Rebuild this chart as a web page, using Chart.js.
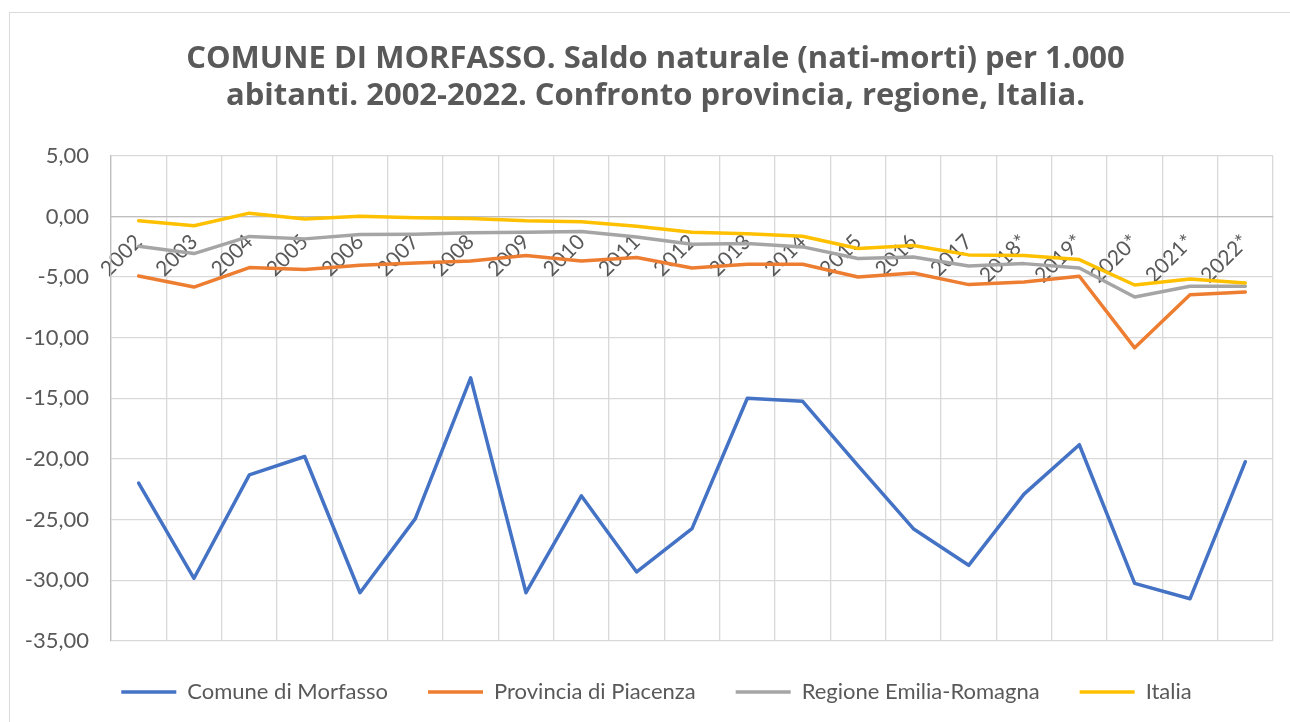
<!DOCTYPE html>
<html>
<head>
<meta charset="utf-8">
<title>Saldo naturale Morfasso</title>
<script src="https://cdn.jsdelivr.net/npm/chart.js@4.4.1/dist/chart.umd.min.js"></script>
<style>
  html, body { margin: 0; padding: 0; background: #fff; }
  #wrap { width: 1290px; height: 722px; position: relative; }
</style>
</head>
<body>
<div id="wrap"><canvas id="linechart"></canvas></div>
<script>
// Data
var years = ["2002", "2003", "2004", "2005", "2006", "2007", "2008", "2009", "2010", "2011",
             "2012", "2013", "2014", "2015", "2016", "2017", "2018*", "2019*", "2020*", "2021*", "2022*"];

var morfasso = [-21.98, -29.83, -21.30, -19.79, -31.02, -24.91, -13.31, -31.02, -23.03, -29.31,
                -25.74, -14.99, -15.24, -20.55, -25.74, -28.76, -22.89, -18.82, -30.25, -31.52, -20.22];
var piacenza = [-4.91, -5.82, -4.22, -4.38, -4.02, -3.83, -3.67, -3.22, -3.67, -3.39,
                -4.25, -3.94, -3.94, -4.99, -4.66, -5.62, -5.40, -4.93, -10.83, -6.45, -6.23];
var emilia = [-2.45, -3.06, -1.65, -1.85, -1.49, -1.46, -1.35, -1.30, -1.24, -1.69,
              -2.29, -2.23, -2.51, -3.47, -3.34, -4.08, -3.89, -4.25, -6.64, -5.76, -5.76];
var italia = [-0.36, -0.77, 0.27, -0.22, 0.02, -0.11, -0.17, -0.36, -0.44, -0.80,
              -1.30, -1.43, -1.63, -2.65, -2.40, -3.17, -3.23, -3.56, -5.65, -5.15, -5.48];

var seriesNames = ["Comune di Morfasso", "Provincia di Piacenza", "Regione Emilia-Romagna", "Italia"];
var seriesColors = ["#4472C4", "#ED7D31", "#A5A5A5", "#FFC000"];

var yMin = -35, yMax = 5, yStep = 5;

var titleLines = [
  "COMUNE DI MORFASSO. Saldo naturale (nati-morti) per 1.000",
  "abitanti. 2002-2022. Confronto provincia, regione, Italia."
];

var fontFamily = "Lato, 'Open Sans', sans-serif";
var titleFamily = "'Open Sans', Lato, sans-serif";
var textGray = "#595959";

// light frame around the whole chart, like the Excel chart area
var chartBorder = {
  id: "chartBorder",
  beforeDraw: function(chart) {
    var ctx = chart.ctx;
    ctx.save();
    ctx.strokeStyle = "#d9d9d9";
    ctx.lineWidth = 1;
    ctx.strokeRect(9.5, 12.5, chart.width, chart.height);
    ctx.restore();
  }
};

// Excel centres title and legend a little to the right of the canvas middle
var nudgeBoxes = {
  id: "nudgeBoxes",
  afterLayout: function(chart) {
    if (chart.titleBlock) {
      chart.titleBlock.left += 8;
      chart.titleBlock.right += 8;
    }
    if (chart.legend) {
      chart.legend.left += 9;
      chart.legend.right += 9;
    }
  }
};

function drawLineChart() {
  var allSeries = [morfasso, piacenza, emilia, italia];
  var datasets = [];

  allSeries.forEach(function(values, i) {
    datasets.push({
      label: seriesNames[i],
      data: values,
      borderColor: seriesColors[i],
      backgroundColor: seriesColors[i],
      borderWidth: 3.5,
      pointRadius: 0,
      pointHoverRadius: 0,
      tension: 0,
      borderCapStyle: "round",
      borderJoinStyle: "round",
      order: allSeries.length - i
    });
  });

  var ctx = document.getElementById("linechart").getContext("2d");
  var myLineChart = new Chart(ctx, {
    type: "line",
    data: { labels: years, datasets: datasets },
    plugins: [chartBorder, nudgeBoxes],
    options: {
      responsive: true,
      maintainAspectRatio: false,
      animation: false,
      layout: { padding: { left: 22, right: 17, top: 0, bottom: 9 } },
      scales: {
        x: {
          position: { y: 0 },
          offset: true,
          grid: { offset: true, color: "#d9d9d9", lineWidth: 1.3, drawTicks: false },
          border: { color: "#bfbfbf", width: 1.3 },
          ticks: {
            autoSkip: false,
            minRotation: 45,
            maxRotation: 45,
            padding: 13,
            color: textGray,
            font: { family: fontFamily, size: 21 }
          }
        },
        y: {
          min: yMin,
          max: yMax,
          afterFit: function(scale) { scale.width = 89; },
          grid: { color: "#d9d9d9", lineWidth: 1.3, drawTicks: false },
          border: { color: "#bfbfbf", width: 1.3 },
          ticks: {
            stepSize: yStep,
            padding: 22,
            color: textGray,
            font: { family: fontFamily, size: 22 },
            callback: function(value) { return value.toFixed(2).replace(".", ","); }
          }
        }
      },
      plugins: {
        title: {
          display: true,
          text: titleLines,
          color: textGray,
          font: { family: titleFamily, size: 31, weight: "bold", lineHeight: 1.19 },
          padding: { top: 41, bottom: 41 }
        },
        legend: {
          position: "bottom",
          labels: {
            usePointStyle: true,
            pointStyle: "line",
            pointStyleWidth: 55,
            color: textGray,
            font: { family: fontFamily, size: 22 },
            padding: 40,
            sort: function(a, b) { return a.datasetIndex - b.datasetIndex; }
          }
        },
        tooltip: { enabled: false }
      }
    }
  });
}

drawLineChart();
</script>
</body>
</html>
